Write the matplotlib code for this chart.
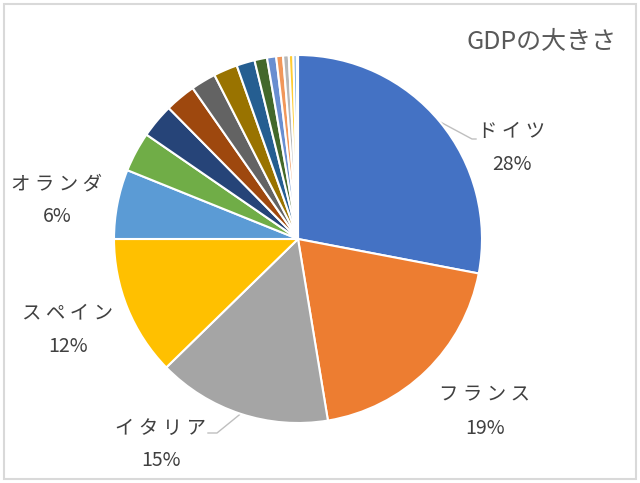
import matplotlib
matplotlib.use("Agg")
import matplotlib.pyplot as plt
import numpy as np

plt.rcParams['font.family'] = ['Noto Sans CJK JP', 'DejaVu Sans']

# data (shares of GDP, %)
names = ["ドイツ", "フランス", "イタリア", "スペイン", "オランダ",
         "", "", "", "", "", "", "", "", "", "", "", "", ""]
values = [28.0, 19.4, 15.3, 12.3, 6.1, 3.5, 3.0, 2.7, 2.2, 2.1, 1.6, 1.1,
          0.8, 0.6, 0.5, 0.4, 0.3, 0.1]
colors = ["#4472C4", "#ED7D31", "#A5A5A5", "#FFC000", "#5B9BD5", "#70AD47",
          "#264478", "#9E480E", "#636363", "#997300", "#255E91", "#43682B",
          "#698ED0", "#F1975A", "#B7B7B7", "#FFCD33", "#7CAFDD", "#8CC168"]
title = "GDPの大きさ"

W, H = 640, 483
fig = plt.figure(figsize=(W / 100, H / 100), dpi=100)
ax = fig.add_axes([0, 0, 1, 1])
ax.set_xlim(0, W)
ax.set_ylim(H, 0)
ax.set_aspect('equal')
ax.axis('off')

cx, cy, r = 298, 239, 184
pax = fig.add_axes([0, 0, 1, 1])
wedges, _ = pax.pie(values, colors=colors, startangle=90, counterclock=False,
                    center=(cx, H - cy), radius=r, frame=True,
                    wedgeprops=dict(edgecolor='white', linewidth=1.5))
pax.set_xlim(0, W)
pax.set_ylim(0, H)
pax.set_aspect('equal')
pax.axis('off')

# frame
ax.add_patch(plt.Rectangle((3.5, 3.5), W - 8, H - 8, fill=False,
                           edgecolor='#D9D9D9', linewidth=1.5))

ax.text(542, 41, title, fontsize=18, color='#595959', ha='center', va='center')

total = sum(values)
label_pos = {0: (512, 132), 1: (485, 395), 2: (161, 428), 3: (68, 313), 4: (57, 184)}
leaders = {0: [(476, 139), (472, 139)], 2: [(208, 433), (217, 433)]}
ang = 90.0
for i, v in enumerate(values):
    span = v / total * 360
    mid = np.deg2rad(ang - span / 2)
    ang -= span
    if i in label_pos:
        x, y = label_pos[i]
        ax.text(x, y, " ".join(names[i]), fontsize=14, color='#404040',
                ha='center', va='center')
        ax.text(x, y + 33, f"{round(v / total * 100):.0f}%", fontsize=14,
                color='#404040', ha='center', va='center')
        if i in leaders:
            ex, ey = cx + r * np.cos(mid), cy - r * np.sin(mid)
            (ax0, ay0), (ax1, ay1) = leaders[i]
            ax.plot([ax0, ax1, ex], [ay0, ay1, ey], color='#BFBFBF', linewidth=1)

fig.savefig("out.png", dpi=100)
